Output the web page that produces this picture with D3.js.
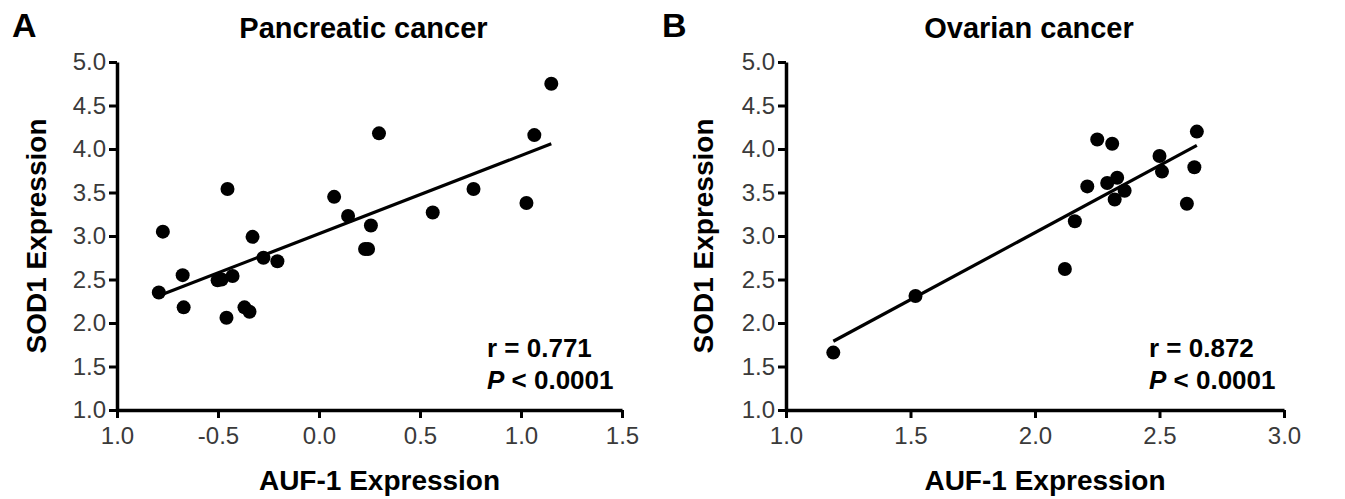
<!DOCTYPE html>
<html>
<head>
<meta charset="utf-8">
<script src="https://cdn.jsdelivr.net/npm/d3@7"></script>
<style>
  body { margin: 0; background: #fff; }
  svg { display: block; }
  text { font-family: "Liberation Sans", Arial, sans-serif; }
</style>
</head>
<body>
<svg id="chart" width="1345" height="499"></svg>
<script>
// Panel A: pancreatic cancer
const panA_x = [-0.793, -0.773, -0.675, -0.670, -0.502, -0.482, -0.453, -0.458, -0.428, -0.369, -0.344, -0.329, -0.275, -0.206,
                0.075, 0.144, 0.228, 0.243, 0.257, 0.297, 0.563, 0.765, 1.027, 1.066, 1.150];
const panA_y = [2.35, 3.05, 2.55, 2.18, 2.49, 2.50, 3.54, 2.06, 2.54, 2.18, 2.13, 2.99, 2.75, 2.71,
                3.45, 3.23, 2.85, 2.85, 3.12, 4.18, 3.27, 3.54, 3.38, 4.16, 4.75];

// Panel B: ovarian cancer
const panB_x = [1.19, 1.52, 2.12, 2.16, 2.21, 2.25, 2.31, 2.29, 2.33, 2.32, 2.36, 2.50, 2.51, 2.65, 2.64, 2.61];
const panB_y = [1.66, 2.31, 2.62, 3.17, 3.57, 4.11, 4.06, 3.61, 3.67, 3.42, 3.52, 3.92, 3.74, 4.20, 3.79, 3.37];

const yTicks = [1.0, 1.5, 2.0, 2.5, 3.0, 3.5, 4.0, 4.5, 5.0];
const xTicksA = [-1.0, -0.5, 0.0, 0.5, 1.0, 1.5];
const xLabelsA = ["1.0", "-0.5", "0.0", "0.5", "1.0", "1.5"];
const xTicksB = [1.0, 1.5, 2.0, 2.5, 3.0];
const xLabelsB = ["1.0", "1.5", "2.0", "2.5", "3.0"];

const panels = [
    { letter: "A", title: "Pancreatic cancer", xs: panA_x, ys: panA_y, xTicks: xTicksA, xLabels: xLabelsA,
      x0: 117, x1: 622, letterX: 12, ylabX: 46, r: "r = 0.771" },
    { letter: "B", title: "Ovarian cancer", xs: panB_x, ys: panB_y, xTicks: xTicksB, xLabels: xLabelsB,
      x0: 786, x1: 1284, letterX: 662, ylabX: 713, r: "r = 0.872" }
];

const svg = d3.select("#chart");
const yTop = 62, yBot = 410;

function fit(xs, ys) {
    const mx = d3.mean(xs), my = d3.mean(ys);
    let sxy = 0, sxx = 0;
    xs.forEach((x, i) => { sxy += (x - mx) * (ys[i] - my); sxx += (x - mx) * (x - mx); });
    const b = sxy / sxx;
    return { b: b, a: my - b * mx };
}

panels.forEach(p => {
    const x = d3.scaleLinear().domain(d3.extent(p.xTicks)).range([p.x0, p.x1]);
    const y = d3.scaleLinear().domain([1, 5]).range([yBot, yTop]);
    const g = svg.append("g");

    // axes
    const xAxis = g.append("g")
        .attr("transform", `translate(0,${yBot})`)
        .call(d3.axisBottom(x).tickValues(p.xTicks).tickFormat((d, i) => p.xLabels[i]).tickSize(8).tickSizeOuter(0));
    const yAxis = g.append("g")
        .attr("transform", `translate(${p.x0},0)`)
        .call(d3.axisLeft(y).tickValues(yTicks).tickFormat(d3.format(".1f")).tickSize(8).tickSizeOuter(0));

    [xAxis, yAxis].forEach(a => {
        a.select(".domain").attr("stroke", "#000").attr("stroke-width", 3.5);
        a.selectAll(".tick line").attr("stroke", "#000").attr("stroke-width", 3);
        a.selectAll(".tick text")
            .attr("fill", "#3a3a3a")
            .style("font-size", "24px")
            .style("font-family", "'Liberation Sans', Arial, sans-serif");
    });
    xAxis.selectAll(".tick text").attr("dy", "0.95em").attr("y", 11);
    yAxis.selectAll(".tick text").attr("x", -11);

    // regression line
    const f = fit(p.xs, p.ys);
    const ext = d3.extent(p.xs);
    g.append("line")
        .attr("x1", x(ext[0])).attr("y1", y(f.a + f.b * ext[0]))
        .attr("x2", x(ext[1])).attr("y2", y(f.a + f.b * ext[1]))
        .attr("stroke", "#000").attr("stroke-width", 3.2);

    // points
    g.selectAll("circle.pt")
        .data(p.xs.map((v, i) => [v, p.ys[i]]))
        .join("circle")
        .attr("class", "pt")
        .attr("cx", d => x(d[0]))
        .attr("cy", d => y(d[1]))
        .attr("r", 7)
        .attr("fill", "#000");

    // texts
    g.append("text").attr("x", p.letterX).attr("y", 37)
        .style("font-size", "34px").style("font-weight", "bold").text(p.letter);
    g.append("text").attr("x", (p.x0 + p.x1) / 2 - 6).attr("y", 38)
        .attr("text-anchor", "middle").style("font-size", "29px").style("font-weight", "bold")
        .text(p.title);
    g.append("text").attr("x", (p.x0 + p.x1) / 2 + 10).attr("y", 490)
        .attr("text-anchor", "middle").style("font-size", "28px").style("font-weight", "bold")
        .text("AUF-1 Expression");
    g.append("text")
        .attr("transform", `translate(${p.ylabX},236) rotate(-90)`)
        .attr("text-anchor", "middle").style("font-size", "28px").style("font-weight", "bold")
        .text("SOD1 Expression");

    const sx = p.x1 - 135;
    g.append("text").attr("x", sx).attr("y", 357)
        .style("font-size", "26px").style("font-weight", "bold").text(p.r);
    const pt = g.append("text").attr("x", sx).attr("y", 389)
        .style("font-size", "26px").style("font-weight", "bold");
    pt.append("tspan").style("font-style", "italic").text("P");
    pt.append("tspan").text(" < 0.0001");
});
</script>
</body>
</html>
